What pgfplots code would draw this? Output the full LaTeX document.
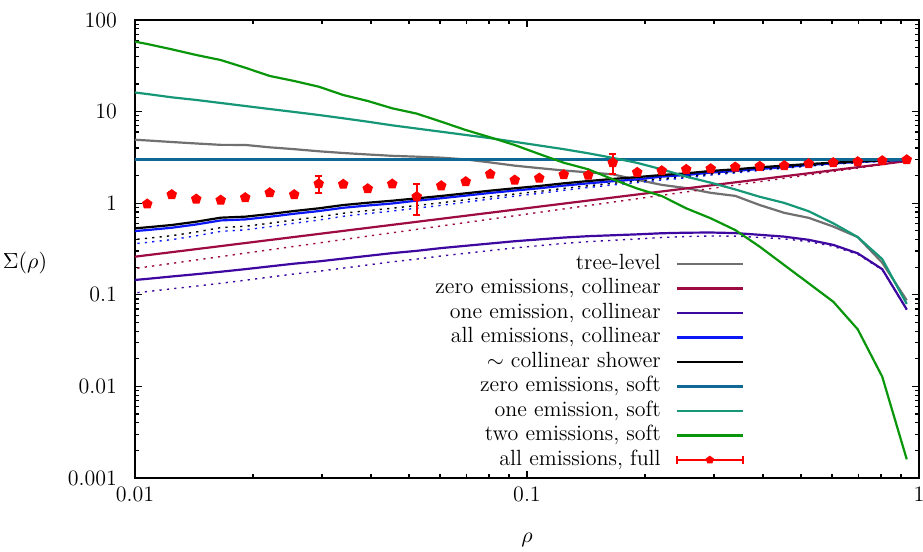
\documentclass[border=0pt]{standalone}
\usepackage{pgfplots}
\usepackage{pgfplotstable}
\pgfplotsset{compat=1.18}

\definecolor{ctree}{RGB}{112,112,112}
\definecolor{czc}{RGB}{158,10,66}
\definecolor{coc}{RGB}{62,8,160}
\definecolor{cac}{RGB}{12,24,245}
\definecolor{czs}{RGB}{16,104,148}
\definecolor{cos}{RGB}{22,152,120}
\definecolor{cts}{RGB}{10,150,10}

% legend sample for the data with error bars
\pgfplotsset{
  full legend/.style={
    legend image code/.code={
      \draw[red, line width=1pt] (0pt,0pt) -- (33pt,0pt);
      \draw[red, line width=1pt] (0pt,-1.8pt) -- (0pt,1.8pt) (33pt,-1.8pt) -- (33pt,1.8pt);
      \draw[##1, mark size=1.8pt] plot coordinates {(16.5pt,0pt)};
    }
  }
}

% columns: rho, tree-level, zero/one/all emissions collinear (solid, dotted),
% collinear shower (solid, dotted), zero/one/two emissions soft
\pgfplotstableread{
x          tree   zc     zcd    oc     ocd    ac     acd    cs     csd    zs  os     ts
0.0093057  5.012  0.2509 0.1855 0.1413 0.1016 0.4842 0.3506 0.5188 0.3902 3   16.79  61.66
0.010746   4.842  0.2708 0.2021 0.1493 0.1084 0.5093 0.3733 0.5458 0.4141 3   15.56  54.70
0.012409   4.656  0.2921 0.2203 0.1585 0.1163 0.5395 0.4002 0.5781 0.4423 3   14.32  47.86
0.014330   4.487  0.3152 0.2399 0.1679 0.1244 0.5861 0.4400 0.6281 0.4849 3   13.40  41.50
0.016548   4.335  0.3402 0.2614 0.1786 0.1337 0.6486 0.4930 0.6950 0.5414 3   12.42  36.56
0.019110   4.325  0.3673 0.2847 0.1905 0.1441 0.6653 0.5117 0.7129 0.5602 3   11.51  30.13
0.022067   4.074  0.3964 0.3101 0.2042 0.1560 0.7112 0.5537 0.7621 0.6039 3   10.67  24.49
0.025483   3.890  0.4279 0.3377 0.2188 0.1689 0.7674 0.6045 0.8222 0.6576 3   9.908  21.58
0.029427   3.690  0.4618 0.3679 0.2317 0.1807 0.8204 0.6543 0.8790 0.7090 3   9.183  18.71
0.033982   3.532  0.4984 0.4009 0.2483 0.1956 0.8913 0.7194 0.9550 0.7772 3   8.453  15.17
0.039242   3.404  0.5379 0.4367 0.2661 0.2117 0.9441 0.7710 1.0116 0.8304 3   7.762  13.06
0.045316   3.289  0.5804 0.4757 0.2851 0.2292 0.9931 0.8213 1.0641 0.8813 3   7.079  10.86
0.052330   3.221  0.6264 0.5183 0.3020 0.2453 1.0666 0.8824 1.1298 0.9441 3   6.531  9.506
0.060430   3.141  0.6761 0.5643 0.3236 0.2655 1.1324 0.9482 1.1995 1.0111 3   6.026  7.762
0.069783   3.006  0.7297 0.6149 0.3428 0.2841 1.2106 1.0261 1.2823 1.0904 3   5.559  6.295
0.080584   2.786  0.7876 0.6697 0.3631 0.3040 1.2942 1.1101 1.3709 1.1759 3   5.129  5.236
0.093057   2.570  0.8500 0.7295 0.3846 0.3252 1.3740 1.1929 1.4555 1.2593 3   4.677  4.315
0.10746    2.415  0.9175 0.7948 0.4027 0.3440 1.4555 1.2793 1.5417 1.3459 3   4.266  3.443
0.12409    2.275  0.9901 0.8659 0.4217 0.3640 1.5560 1.3838 1.6482 1.4511 3   3.890  2.767
0.14330    2.173  1.0686 0.9432 0.4365 0.3806 1.6482 1.4835 1.7458 1.5509 3   3.508  2.344
0.16548    2.065  1.1533 1.0273 0.4467 0.3934 1.7378 1.5832 1.8408 1.6497 3   3.126  1.824
0.19110    1.799  1.2447 1.1190 0.4571 0.4067 1.8197 1.6788 1.9275 1.7428 3   2.754  1.445
0.22067    1.585  1.3435 1.2192 0.4699 0.4223 1.9498 1.7906 2.0324 1.8535 3   2.344  1.199
0.25483    1.462  1.4500 1.3282 0.4764 0.4325 2.0324 1.8893 2.1184 1.9489 3   1.950  0.8790
0.29427    1.297  1.5648 1.4470 0.4786 0.4389 2.1577 2.0297 2.2491 2.0870 3   1.675  0.6839
0.33982    1.202  1.6890 1.5761 0.4721 0.4373 2.2491 2.1414 2.3442 2.1951 3   1.413  0.5093
0.39242    0.955  1.8229 1.7170 0.4519 0.4229 2.3659 2.2803 2.4660 2.3293 3   1.175  0.3350
0.45316    0.785  1.9674 1.8706 0.4315 0.4080 2.4660 2.4055 2.5704 2.4494 3   1.007  0.2113
0.52330    0.692  2.1232 2.0370 0.3981 0.3803 2.6182 2.5373 2.6792 2.5755 3   0.8166 0.1334
0.60430    0.556  2.2914 2.2193 0.3508 0.3385 2.7164 2.6525 2.7669 2.6833 3   0.6039 0.0841
0.69783    0.427  2.4730 2.4174 0.2838 0.2767 2.8249 2.7791 2.8642 2.8022 3   0.4266 0.0420
0.80584    0.224  2.6690 2.6336 0.1905 0.1876 2.8973 2.8719 2.9242 2.8860 3   0.2455 0.01276
0.93057    0.0871 2.8804 2.8692 0.0692 0.0688 2.9580 2.9613 2.9785 2.9660 3   0.0794 0.0016
}\curves

% full calculation with statistical errors
\pgfplotstableread{
x         y     e
0.010746  0.98  0.03
0.012409  1.24  0.07
0.014330  1.11  0.03
0.016548  1.08  0.03
0.019110  1.15  0.04
0.022067  1.30  0.05
0.025483  1.24  0.05
0.029427  1.63  0.33
0.033982  1.61  0.05
0.039242  1.44  0.04
0.045316  1.62  0.06
0.052330  1.18  0.43
0.060430  1.55  0.04
0.069783  1.72  0.05
0.080584  2.08  0.10
0.093057  1.79  0.04
0.10746   1.88  0.05
0.12409   2.05  0.05
0.14330   2.02  0.05
0.16548   2.77  0.71
0.19110   2.17  0.04
0.22067   2.26  0.04
0.25483   2.34  0.04
0.29427   2.38  0.04
0.33982   2.48  0.04
0.39242   2.53  0.03
0.45316   2.57  0.03
0.52330   2.70  0.03
0.60430   2.77  0.03
0.69783   2.84  0.02
0.80584   2.91  0.02
0.93057   2.98  0.02
}\full

\begin{document}
\begin{tikzpicture}[font=\fontsize{11}{13}\selectfont]
\begin{axis}[
  name=ax,
  scale only axis,
  width=392pt, height=229pt,
  xmode=log, ymode=log,
  xmin=0.01, xmax=1, ymin=0.001, ymax=100,
  xtick={0.01,0.1,1}, xticklabels={0.01,0.1,1},
  ytick={0.001,0.01,0.1,1,10,100},
  yticklabels={0.001,0.01,0.1,1,10,100},
  tick align=inside,
  major tick length=3.3pt, minor tick length=2pt,
  every tick/.style={black, line width=0.6pt},
  axis line style={line width=0.9pt},
  yticklabel style={xshift=-5.5pt},
  xticklabel style={yshift=-1pt},
  xlabel={$\rho$}, ylabel={$\Sigma(\rho)$},
  every axis x label/.style={at={(rel axis cs:0.5,0)}, anchor=center, yshift=-31pt},
  every axis y label/.style={at={(rel axis cs:0,0.469)}, anchor=center, xshift=-55pt},
  legend plot pos=right,
  legend cell align=right,
  legend style={draw=none, fill=none, inner sep=0pt,
    at={(rel axis cs:0.7772,0.49)}, anchor=north east,
    row sep=2.25pt, column sep=7.5pt,
    nodes={inner sep=0pt, text height=7.7pt, text depth=2.3pt}},
  legend image code/.code={\draw[#1] (0pt,0pt) -- (33pt,0pt);},
  every axis plot/.append style={line width=1.1pt},
  dotted curve/.style={line width=0.7pt, dash pattern=on 1.1pt off 2.6pt, forget plot},
]
\addplot[ctree] table[x=x, y=tree] {\curves};
\addlegendentry{tree-level}
\addplot[czc] table[x=x, y=zc] {\curves};
\addlegendentry{zero emissions, collinear}
\addplot[czc, dotted curve] table[x=x, y=zcd] {\curves};
\addplot[coc] table[x=x, y=oc] {\curves};
\addlegendentry{one emission, collinear}
\addplot[coc, dotted curve] table[x=x, y=ocd] {\curves};
\addplot[cac] table[x=x, y=ac] {\curves};
\addlegendentry{all emissions, collinear}
\addplot[cac, dotted curve] table[x=x, y=acd] {\curves};
\addplot[black] table[x=x, y=cs] {\curves};
\addlegendentry{$\sim$ collinear shower}
\addplot[black, dotted curve] table[x=x, y=csd] {\curves};
\addplot[czs] table[x=x, y=zs] {\curves};
\addlegendentry{zero emissions, soft}
\addplot[cos] table[x=x, y=os] {\curves};
\addlegendentry{one emission, soft}
\addplot[cts] table[x=x, y=ts] {\curves};
\addlegendentry{two emissions, soft}
\addplot[red, only marks, mark=pentagon*, mark size=2.4pt,
  mark options={fill=red, draw=red, line width=0.6pt},
  full legend,
  error bars/.cd, y dir=both, y explicit,
  error bar style={red, line width=1pt},
  error mark options={red, rotate=90, mark size=1.8pt, line width=1pt}]
  table[x=x, y=y, y error=e] {\full};
\addlegendentry{all emissions, full}
\end{axis}
\pgfresetboundingbox
\path[use as bounding box] ([xshift=-67.5pt,yshift=-36.5pt]ax.south west)
  rectangle ([xshift=2pt,yshift=10pt]ax.north east);
\end{tikzpicture}
\end{document}
